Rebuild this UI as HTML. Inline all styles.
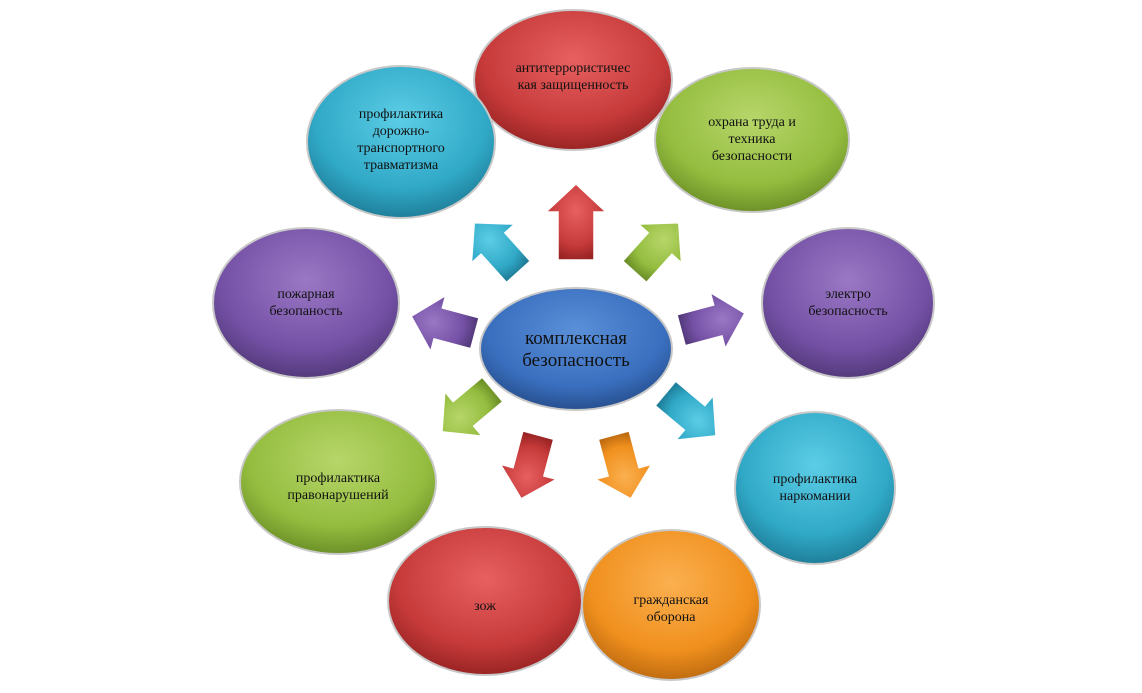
<!DOCTYPE html>
<html><head><meta charset="utf-8"><style>
html,body{margin:0;padding:0;background:#fff;}
svg{display:block;}
text{font-family:"Liberation Serif",serif;fill:#111;}
</style></head><body>
<svg width="1142" height="693" viewBox="0 0 1142 693">
<defs>
<radialGradient id="gred" cx="50%" cy="35%" r="65%"><stop offset="0" stop-color="#e86060"/><stop offset="0.7" stop-color="#c63a3a"/><stop offset="1" stop-color="#9a2424"/></radialGradient>
<radialGradient id="gcyan" cx="50%" cy="35%" r="65%"><stop offset="0" stop-color="#5ccde6"/><stop offset="0.7" stop-color="#30a9c7"/><stop offset="1" stop-color="#1f7f9a"/></radialGradient>
<radialGradient id="ggreen" cx="50%" cy="35%" r="65%"><stop offset="0" stop-color="#b7d66a"/><stop offset="0.7" stop-color="#94bd3f"/><stop offset="1" stop-color="#6d9128"/></radialGradient>
<radialGradient id="gpurple" cx="50%" cy="35%" r="65%"><stop offset="0" stop-color="#9a78c4"/><stop offset="0.7" stop-color="#7551a6"/><stop offset="1" stop-color="#543a7c"/></radialGradient>
<radialGradient id="gorange" cx="50%" cy="35%" r="65%"><stop offset="0" stop-color="#fbb050"/><stop offset="0.7" stop-color="#f0901e"/><stop offset="1" stop-color="#c06c10"/></radialGradient>
<radialGradient id="gblue" cx="50%" cy="35%" r="65%"><stop offset="0" stop-color="#5a8fd8"/><stop offset="0.7" stop-color="#3a6fbf"/><stop offset="1" stop-color="#27508f"/></radialGradient>
<path id="arr" d="M0,-38 L30,-10 L18,-10 L18,38 L-18,38 L-18,-10 L-30,-10 Z"/>
<path id="arrs" d="M0,-34 L29,-6 L16,-6 L16,32 L-16,32 L-16,-6 L-29,-6 Z"/>
</defs>

<g stroke="#c8c8c8" stroke-width="2">
<ellipse cx="573" cy="80" rx="99" ry="70" fill="url(#gred)"/>
<ellipse cx="401" cy="142" rx="94" ry="76" fill="url(#gcyan)"/>
<ellipse cx="752" cy="140" rx="97" ry="72" fill="url(#ggreen)"/>
<ellipse cx="306" cy="303" rx="93" ry="75" fill="url(#gpurple)"/>
<ellipse cx="848" cy="303" rx="86" ry="75" fill="url(#gpurple)"/>
<ellipse cx="338" cy="482" rx="98" ry="72" fill="url(#ggreen)"/>
<ellipse cx="815" cy="488" rx="80" ry="76" fill="url(#gcyan)"/>
<ellipse cx="485" cy="601" rx="97" ry="74" fill="url(#gred)"/>
<ellipse cx="671" cy="605" rx="89" ry="75" fill="url(#gorange)"/>
<ellipse cx="576" cy="349" rx="96" ry="61" fill="url(#gblue)"/>
</g>

<g stroke="#fff" stroke-width="1.5">
<use href="#arr" transform="translate(576,222)" fill="url(#gred)"/>
<use href="#arrs" transform="translate(497,248) rotate(-42)" fill="url(#gcyan)"/>
<use href="#arrs" transform="translate(656,248) rotate(42)" fill="url(#ggreen)"/>
<use href="#arrs" transform="translate(444,325) rotate(-75)" fill="url(#gpurple)"/>
<use href="#arrs" transform="translate(712,322) rotate(75)" fill="url(#gpurple)"/>
<use href="#arrs" transform="translate(468,410) rotate(-130)" fill="url(#ggreen)"/>
<use href="#arrs" transform="translate(690,414) rotate(130)" fill="url(#gcyan)"/>
<use href="#arrs" transform="translate(530,466) rotate(-165)" fill="url(#gred)"/>
<use href="#arrs" transform="translate(622,466) rotate(165)" fill="url(#gorange)"/>
</g>

<g font-size="14" text-anchor="middle">
<text x="573" y="72">антитеррористичес</text>
<text x="573" y="89">кая защищенность</text>
<text x="401" y="118">профилактика</text>
<text x="401" y="135">дорожно-</text>
<text x="401" y="152">транспортного</text>
<text x="401" y="169">травматизма</text>
<text x="752" y="126">охрана труда и</text>
<text x="752" y="143">техника</text>
<text x="752" y="160">безопасности</text>
<text x="306" y="298">пожарная</text>
<text x="306" y="315">безопаность</text>
<text x="848" y="298">электро</text>
<text x="848" y="315">безопасность</text>
<text x="338" y="482">профилактика</text>
<text x="338" y="499">правонарушений</text>
<text x="815" y="483">профилактика</text>
<text x="815" y="500">наркомании</text>
<text x="485" y="610">зож</text>
<text x="671" y="604">гражданская</text>
<text x="671" y="621">оборона</text>
</g>
<g font-size="19" text-anchor="middle">
<text x="576" y="344">комплексная</text>
<text x="576" y="366">безопасность</text>
</g>
</svg>
</body></html>
